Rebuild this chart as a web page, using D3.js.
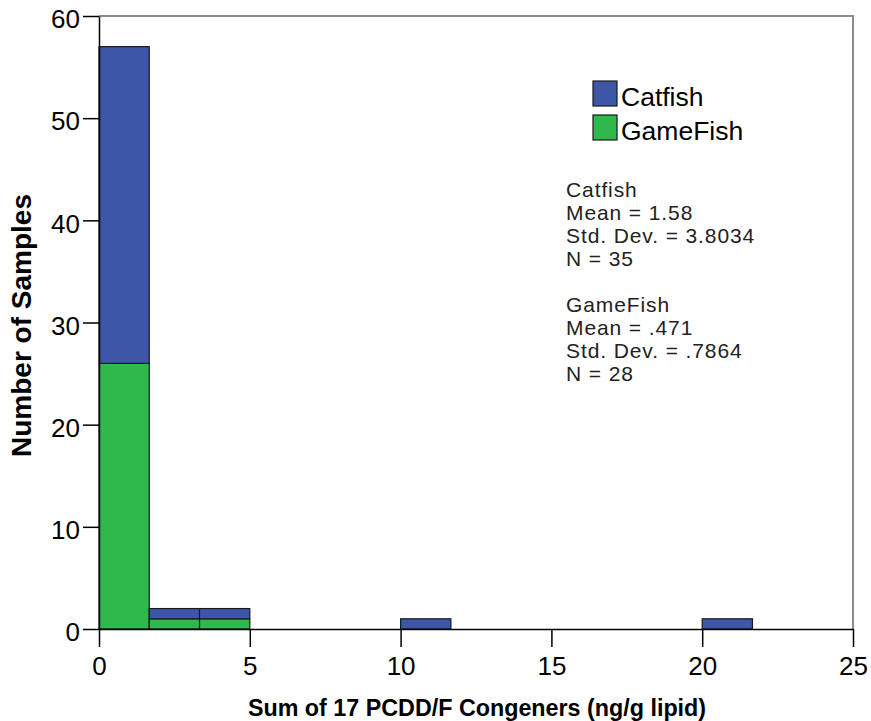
<!DOCTYPE html>
<html>
<head>
<meta charset="utf-8">
<script src="https://cdn.jsdelivr.net/npm/d3@7"></script>
<style>
  body { margin: 0; background: #fff; }
  svg { display: block; font-family: "Liberation Sans", Arial, sans-serif; }
</style>
</head>
<body>
<div id="target"></div>
<script>
// bins of width 5/3 starting at 0
const binStarts = [0, 1.667, 3.333, 5, 6.667, 8.333, 10, 11.667, 13.333, 15, 16.667, 18.333, 20, 21.667, 23.333]
const binWidth = 1.667
const catfish =  [31, 1, 1, 0, 0, 0, 1, 0, 0, 0, 0, 0, 1, 0, 0]
const gamefish = [26, 1, 1, 0, 0, 0, 0, 0, 0, 0, 0, 0, 0, 0, 0]
const groups = ['GameFish', 'Catfish']
const xTicks = [0, 5, 10, 15, 20, 25]
const yTicks = [0, 10, 20, 30, 40, 50, 60]
const statsLines = ['Catfish', 'Mean = 1.58', 'Std. Dev. = 3.8034', 'N = 35', '',
  'GameFish', 'Mean = .471', 'Std. Dev. = .7864', 'N = 28']

const colors = {
    Catfish: '#3d56a8',
    GameFish: '#2fb84b',
    frame: '#8c8c8c',
    ink: '#000'
}

const width = 871, height = 721
const margin = { left: 99, right: 18, top: 16, bottom: 92 }

const svg = d3.select('#target').append('svg')
    .attr('width', width)
    .attr('height', height)

const x = d3.scaleLinear().domain([0, 25]).range([margin.left, width - margin.right])
const y = d3.scaleLinear().domain([0, 60]).range([height - margin.bottom, margin.top])

const rows = binStarts.map((b, i) => ({ start: b, Catfish: catfish[i], GameFish: gamefish[i] }))
const stacked = d3.stack().keys(groups)(rows)

//Frame (top/right)
svg.append('path')
    .attr('d', `M${x(0)},${y(60)}H${x(25)}V${y(0)}`)
    .attr('fill', 'none')
    .attr('stroke', colors.frame)
    .attr('stroke-width', 2)

//Bars
svg.append('g')
    .selectAll('g')
    .data(stacked)
    .join('g')
    .attr('fill', d => colors[d.key])
    .selectAll('rect')
    .data(d => d.filter(s => s[1] > s[0]))
    .join('rect')
    .attr('x', d => x(d.data.start))
    .attr('width', x(binWidth) - x(0))
    .attr('y', d => y(d[1]))
    .attr('height', d => y(d[0]) - y(d[1]))
    .attr('stroke', '#1a1a1a')
    .attr('stroke-width', 1.2)

//Axes
const xAxis = svg.append('g')
    .attr('transform', `translate(0,${y(0)})`)
    .call(d3.axisBottom(x).tickValues(xTicks).tickSize(18).tickPadding(10).tickSizeOuter(0))
xAxis.select('.domain').attr('stroke', colors.ink).attr('stroke-width', 1.5)
xAxis.selectAll('.tick line').attr('stroke', colors.ink).attr('stroke-width', 1.5)
xAxis.selectAll('.tick text')
    .attr('font-size', 26)
    .attr('font-family', '"Liberation Sans", Arial, sans-serif')
    .attr('fill', colors.ink)

const yAxis = svg.append('g')
    .attr('transform', `translate(${x(0)},0)`)
    .call(d3.axisLeft(y).tickValues(yTicks).tickSize(16).tickPadding(3).tickSizeOuter(0))
yAxis.select('.domain').attr('stroke', colors.ink).attr('stroke-width', 1.5)
yAxis.selectAll('.tick line').attr('stroke', colors.ink).attr('stroke-width', 1.5)
yAxis.selectAll('.tick text')
    .attr('font-size', 26)
    .attr('dy', '0.45em')
    .attr('font-family', '"Liberation Sans", Arial, sans-serif')
    .attr('fill', colors.ink)

//Axis titles
svg.append('text')
    .attr('transform', `translate(31,${(y(0) + y(60)) / 2 + 3}) rotate(-90)`)
    .attr('text-anchor', 'middle')
    .attr('font-size', 28)
    .attr('font-weight', 'bold')
    .text('Number of Samples')

svg.append('text')
    .attr('x', 477)
    .attr('y', 716)
    .attr('text-anchor', 'middle')
    .attr('font-size', 23.3)
    .attr('font-weight', 'bold')
    .text('Sum of 17 PCDD/F Congeners (ng/g lipid)')

//Legend
const legend = svg.append('g')
    .selectAll('g')
    .data(['Catfish', 'GameFish'])
    .join('g')
    .attr('transform', (d, i) => `translate(593,${81 + i * 34})`)

legend.append('rect')
    .attr('width', 24)
    .attr('height', 25)
    .attr('fill', d => colors[d])
    .attr('stroke', '#1a1a1a')
    .attr('stroke-width', 1.2)

legend.append('text')
    .attr('x', 28)
    .attr('y', 25)
    .attr('font-size', 26.5)
    .text(d => d)

//Stats box
svg.append('text')
    .attr('font-size', 21)
    .attr('letter-spacing', 0.9)
    .attr('fill', '#222')
    .selectAll('tspan')
    .data(statsLines)
    .join('tspan')
    .attr('x', 566)
    .attr('y', (d, i) => 197 + i * 23)
    .text(d => d)
</script>
</body>
</html>
